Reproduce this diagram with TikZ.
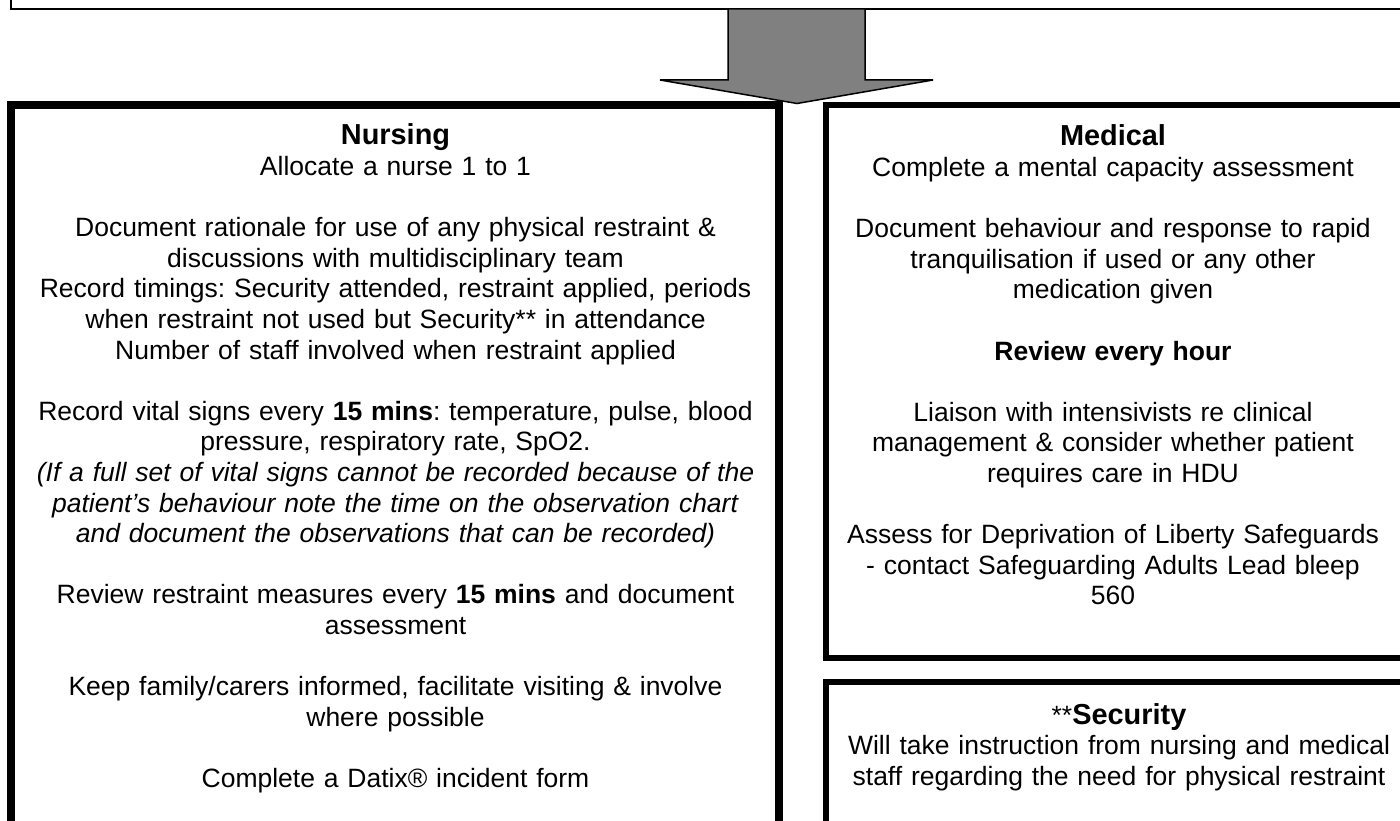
\documentclass[tikz,border=0pt]{standalone}
\usepackage{fontspec}
\setmainfont{Liberation Sans}
\definecolor{arrowgray}{RGB}{128,128,128}
\newcommand\hd[1]{{\bfseries\fontsize{28.9}{30.6}\selectfont #1}}
\newcommand\emptyrow{\\[30.6pt]}
\tikzset{
  body/.style={anchor=base, align=center, text width=820pt, inner sep=0pt,
               font=\fontsize{26.5}{30.6}\selectfont\frenchspacing},
  nursebox/.style={draw=black, line width=8pt},
  sidebox/.style={draw=black, line width=6pt},
  topbox/.style={draw=black, line width=2pt},
  bigarrow/.style={fill=arrowgray, draw=black, line width=1.5pt, line join=miter},
}
\begin{document}
\begin{tikzpicture}[x=1pt,y=-1pt]
\useasboundingbox (0,0) rectangle (1400,821);
\clip (0,0) rectangle (1400,821);
% boxes
\draw[topbox] (11,-60) rectangle (1460,9);
\draw[nursebox] (11,105) rectangle (779,900);
\draw[sidebox] (826,105) rectangle (1460,657.5);
\draw[sidebox] (826,682) rectangle (1460,900);
% texts
\node[body] (nursing) at (395.5,145) {\hd{Nursing}\\
Allocate a nurse 1 to 1\emptyrow
Document rationale for use of any physical restraint \&\\
discussions with multidisciplinary team\\
Record timings: Security attended, restraint applied, periods\\
when restraint not used but Security** in attendance\\
Number of staff involved when restraint applied\emptyrow
Record vital signs every \textbf{15 mins}: temperature, pulse, blood\\
pressure, respiratory rate, SpO2.\\
\textit{(If a full set of vital signs cannot be recorded because of the}\\
\textit{patient’s behaviour note the time on the observation chart}\\
\textit{and document the observations that can be recorded)}\emptyrow
Review restraint measures every \textbf{15 mins} and document\\
assessment\emptyrow
Keep family/carers informed, facilitate visiting \& involve\\
where possible\emptyrow
Complete a Datix® incident form};
\node[body] (medical) at (1113,146) {\hd{Medical}\\
Complete a mental capacity assessment\emptyrow
Document behaviour and response to rapid\\
tranquilisation if used or any other\\
medication given\emptyrow
\textbf{Review every hour}\emptyrow
Liaison with intensivists re clinical\\
management \& consider whether patient\\
requires care in HDU\emptyrow
Assess for Deprivation of Liberty Safeguards\\
- contact Safeguarding Adults Lead bleep\\
560};
\node[body] (security) at (1119,724) {**\hd{Security}\\
Will take instruction from nursing and medical\\
staff regarding the need for physical restraint};
% arrow
\draw[bigarrow] (728,9) -- (865,9) -- (865,80) -- (933,80) -- (797,103.5)
  -- (660,80) -- (728,80) -- cycle;
\end{tikzpicture}
\end{document}
